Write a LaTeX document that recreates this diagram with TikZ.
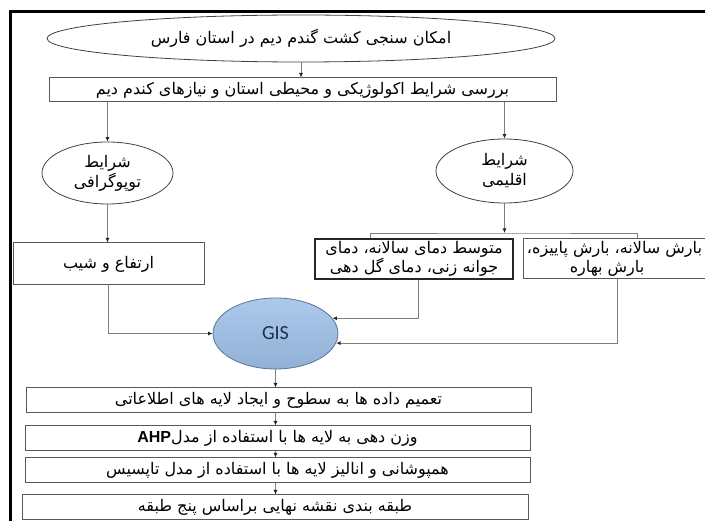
\documentclass[tikz,border=0pt]{standalone}
\usepackage{fontspec}
\setmainfont{DejaVu Sans}
\newfontfamily\fa[Script=Arabic]{DejaVu Sans}
\newfontfamily\gisfont{Carlito}
\newfontfamily\latfont{Liberation Sans}
\TeXXeTstate=1
\usetikzlibrary{shapes.geometric,arrows.meta,calc}
\definecolor{conncol}{HTML}{7F7F7F}
\definecolor{boxcol}{HTML}{595959}
\definecolor{gisfill}{HTML}{9DC0E8}
\definecolor{gisdraw}{HTML}{5A7598}
\definecolor{gistext}{HTML}{1F2F4F}
\tikzset{
  conn/.style={draw=conncol, line width=0.8pt},
  arr/.style={conn, -{Latex[length=4.5pt,width=4pt,color=black!85]}},
  boxst/.style={draw=boxcol, line width=1pt, rectangle, inner sep=1pt, font=\fa\fontsize{16}{19}\selectfont, align=center},
  thickbox/.style={boxst, draw=black!85, line width=1.6pt},
  ellst/.style={draw=black!75, line width=0.8pt, ellipse, inner sep=0pt, font=\fa\fontsize{16}{20}\selectfont, align=center},
}
\begin{document}
\begin{tikzpicture}[x=1pt,y=-1pt]
\useasboundingbox (0,0) rectangle (705,521);
\clip (0,0) rectangle (705,521);
% frame
\draw[line width=3pt, black] (706,11.5) -- (10,11.5) -- (10,522);
% nodes
\node[ellst, minimum width=508pt, minimum height=47pt] (e0) at (301,38.5) {\beginR امکان سنجی کشت گندم دیم در استان فارس\endR};
\node[boxst, minimum width=507pt, minimum height=24pt] (b1) at (302.5,90) {\beginR بررسی شرایط اکولوژیکی و محیطی استان و نیازهای کندم دیم\endR};
\node[ellst, minimum width=131pt, minimum height=62pt] (el) at (107.5,173) {\beginR شرایط\endR\\\beginR توپوگرافی\endR};
\node[ellst, minimum width=137pt, minimum height=64pt] (er) at (504.5,171) {\beginR شرایط\endR\\\beginR اقلیمی\endR};
\node[boxst, minimum width=191pt, minimum height=42pt] (art) at (108.5,264) {\beginR ارتفاع و شیب\endR};
\node[thickbox, minimum width=198pt, minimum height=40pt] (mid) at (414,259) {\beginR متوسط دمای سالانه، دمای\endR\\\beginR جوانه زنی، دمای گل دهی\endR};
\node[boxst, minimum width=189pt, minimum height=40pt] (rb) at (617.5,259) {\beginR بارش سالانه، بارش پاییزه،\endR\hspace*{6pt}\\\beginR بارش بهاره\endR\hspace*{21pt}};
\node[ellipse, draw=gisdraw, line width=0.8pt, top color=gisfill!85!white, bottom color=gisfill!92!black, minimum width=125pt, minimum height=71pt, inner sep=0pt, font=\gisfont\fontsize{20}{22}\selectfont, text=gistext] (gis) at (275.5,333.5) {GIS};
\node[boxst, minimum width=505pt, minimum height=25pt] (bA) at (278.5,400.5) {\beginR تعمیم داده ها به سطوح و ایجاد لایه های اطلاعاتی\endR};
\node[boxst, minimum width=505pt, minimum height=25pt] (bB) at (277.5,438.5) {\beginR وزن دهی به لایه ها با استفاده از مدل\beginL{\latfont\bfseries\fontsize{16}{19}\selectfont AHP}\endL\endR};
\node[boxst, minimum width=505pt, minimum height=25pt] (bC) at (277.5,470.5) {\beginR همپوشانی و انالیز لایه ها با استفاده از مدل تاپسیس\endR};
\node[boxst, minimum width=506pt, minimum height=25pt] (bD) at (275,507.5) {\beginR طبقه بندی نقشه نهایی براساس پنج طبقه\endR};
% connectors
\draw[arr] (e0.south) -- (e0.south |- b1.north);
\draw[arr] (el.north |- b1.south) -- (el.north);
\draw[arr] (er.north |- b1.south) -- (er.north);
\draw[arr] (el.south) -- (el.south |- art.north);
\coordinate (br) at (504.5,233);
\draw[arr] (er.south) -- (br);
\draw[conn] ([xshift=-44pt]mid.north) |- (br) -| ([xshift=19.5pt]rb.north);
\draw[arr] (art.south) |- (gis.west);
\draw[arr] ([xshift=4pt]mid.south) |- (gis.15);
\draw[arr] (rb.south) |- (gis.-9);
\draw[arr] (gis.south) -- (gis.south |- bA.north);
\draw[arr] (gis.south |- bA.south) -- (gis.south |- bB.north);
\draw[arr] (gis.south |- bB.south) -- (gis.south |- bC.north);
\draw[arr] (gis.south |- bC.south) -- (gis.south |- bD.north);
\end{tikzpicture}
\end{document}
